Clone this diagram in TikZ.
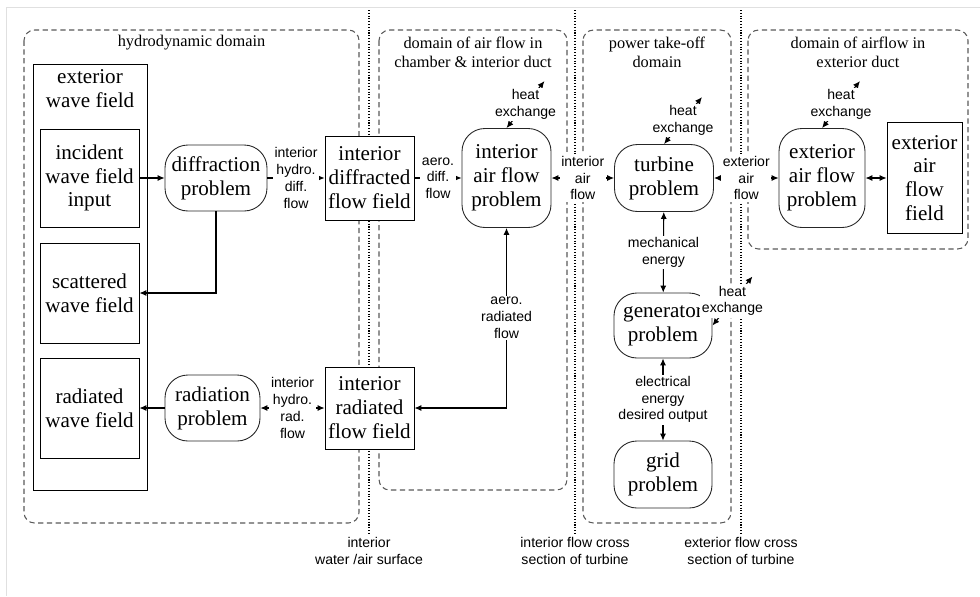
\documentclass[tikz,border=0pt]{standalone}
\usepackage{fontspec}
\setmainfont{Liberation Serif}
\newfontfamily\lblfont{Liberation Sans}
\usetikzlibrary{arrows.meta}

\tikzset{
  box/.style={draw, fill=white, line width=0.5pt, align=center, inner sep=0pt,
    font=\fontsize{12}{13.6}\selectfont},
  prob/.style={draw=black!85, fill=white, rounded corners=13pt,
    line width=0.5pt, align=center, inner sep=0pt, font=\fontsize{12}{13.6}\selectfont},
  flowlbl/.style={fill=white, align=center, inner sep=1pt,
    font=\lblfont\fontsize{8}{9.5}\selectfont},
  domainbox/.style={draw=black!65, densely dashed, rounded corners=6pt, line width=0.6pt},
  domtitle/.style={align=center, font=\fontsize{9.3}{10.8}\selectfont},
  divider/.style={densely dotted, line width=0.6pt},
  link/.style={line width=0.6pt, >={Latex[length=4pt,width=3.5pt]}},
}

\begin{document}
\begin{tikzpicture}[x=0.02cm,y=-0.02cm]
	\useasboundingbox (0,0) rectangle (980,596);
	\draw[black!12] (6,596) -- (6,7) -- (980,7);

	\draw[domainbox] (24,30) rectangle (359,523);
	\draw[domainbox] (379,30) rectangle (567,490);
	\draw[domainbox] (583,30) rectangle (731,523);
	\draw[domainbox] (748,30) rectangle (968,249);
	\node[domtitle] (hydrotitle) at (191.5,43) {hydrodynamic domain};
	\node[domtitle] (airtitle) at (473,52.5) {domain of air flow in\\chamber \& interior duct};
	\node[domtitle] (ptotitle) at (657,52.5) {power take-off\\domain};
	\node[domtitle] (exttitle) at (858,52.5) {domain of airflow in\\exterior duct};

	\draw[divider] (369,10) -- (369,535) node[flowlbl,below] (surf) {interior\\water /air surface};
	\draw[divider] (575,10) -- (575,535) node[flowlbl,below] (intsec) {interior flow cross\\section of turbine};
	\draw[divider] (741,10) -- (741,535) node[flowlbl,below] (extsec) {exterior flow cross\\section of turbine};

	\node[box, minimum width=2.28cm, minimum height=8.52cm,
		label={[anchor=north, align=center, font=\fontsize{12}{13.6}\selectfont]north:exterior\\wave field}]
		(extwave) at (90,277) {};
	\node[box, minimum width=1.98cm, minimum height=1.96cm] (incident) at (89.5,178) {incident\\wave field\\input};
	\node[box, minimum width=1.98cm, minimum height=2cm] (scattered) at (89.5,293) {scattered\\wave field};
	\node[box, minimum width=1.98cm, minimum height=2cm] (radiated) at (89.5,408) {radiated\\wave field};

	\node[prob, minimum width=2.04cm, minimum height=1.32cm] (diffraction) at (216,178) {diffraction\\problem};
	\node[prob, minimum width=1.9cm, minimum height=1.32cm] (radiation) at (212.5,408) {radiation\\problem};
	\node[box, minimum width=1.78cm, minimum height=1.68cm] (difffield) at (369.5,178) {interior\\diffracted\\flow field};
	\node[box, minimum width=1.78cm, minimum height=1.64cm] (radfield) at (369.5,408) {interior\\radiated\\flow field};
	\node[prob, minimum width=1.78cm, minimum height=1.98cm] (airflow) at (506.5,178) {interior\\air flow\\problem};
	\node[prob, minimum width=1.98cm, minimum height=1.34cm] (turbine) at (664,178) {turbine\\problem};
	\node[prob, minimum width=1.96cm, minimum height=1.3cm] (generator) at (663,325.5) {generator\\problem};
	\node[prob, minimum width=1.96cm, minimum height=1.34cm] (grid) at (663,474.5) {grid\\problem};
	\node[prob, minimum width=1.72cm, minimum height=1.98cm] (extairflow) at (822,178) {exterior\\air flow\\problem};
	\node[box, minimum width=1.5cm, minimum height=2.22cm] (extfield) at (924.5,178) {exterior\\air\\flow\\field};

	\draw[link,->] (incident) -- (diffraction);
	\draw[link,->] (diffraction.south) |- (scattered.east);
	\draw[link,->] (radiation) -- (radiated);
	\draw[link,->] (diffraction) -- (difffield) node[flowlbl,midway] {interior\\hydro.\\diff.\\flow};
	\draw[link,<->] (radiation) -- (radfield) node[flowlbl,midway] {interior\\hydro.\\rad.\\flow};
	\draw[link,->] (difffield) -- (airflow) node[flowlbl,midway] {aero.\\diff.\\flow};
	\draw[link,<->] (airflow.south) |- (radfield.east) node[flowlbl,pos=0.25] {aero.\\radiated\\flow};
	\draw[link,<->] (airflow) -- (turbine) node[flowlbl,midway] {interior\\air\\flow};
	\draw[link,<->] (turbine) -- (extairflow) node[flowlbl,midway] {exterior\\air\\flow};
	\draw[link,<->] (extairflow) -- (extfield);
	\draw[link,<->] (turbine) -- (generator) node[flowlbl,midway] {mechanical\\energy};
	\draw[link,<->] (generator) -- (grid) node[flowlbl,midway] {electrical\\energy\\desired output};

	\draw[link,<->] (airflow.north) -- ++(38,-47) node[flowlbl,midway] {heat\\exchange};
	\draw[link,<->] (turbine.north) -- ++(38,-47) node[flowlbl,midway] {heat\\exchange};
	\draw[link,<->] (extairflow.north) -- ++(38,-47) node[flowlbl,midway] {heat\\exchange};
	\draw[link,<->] (generator.east) -- ++(40,-49) node[flowlbl,midway] {heat\\exchange};
\end{tikzpicture}
\end{document}
